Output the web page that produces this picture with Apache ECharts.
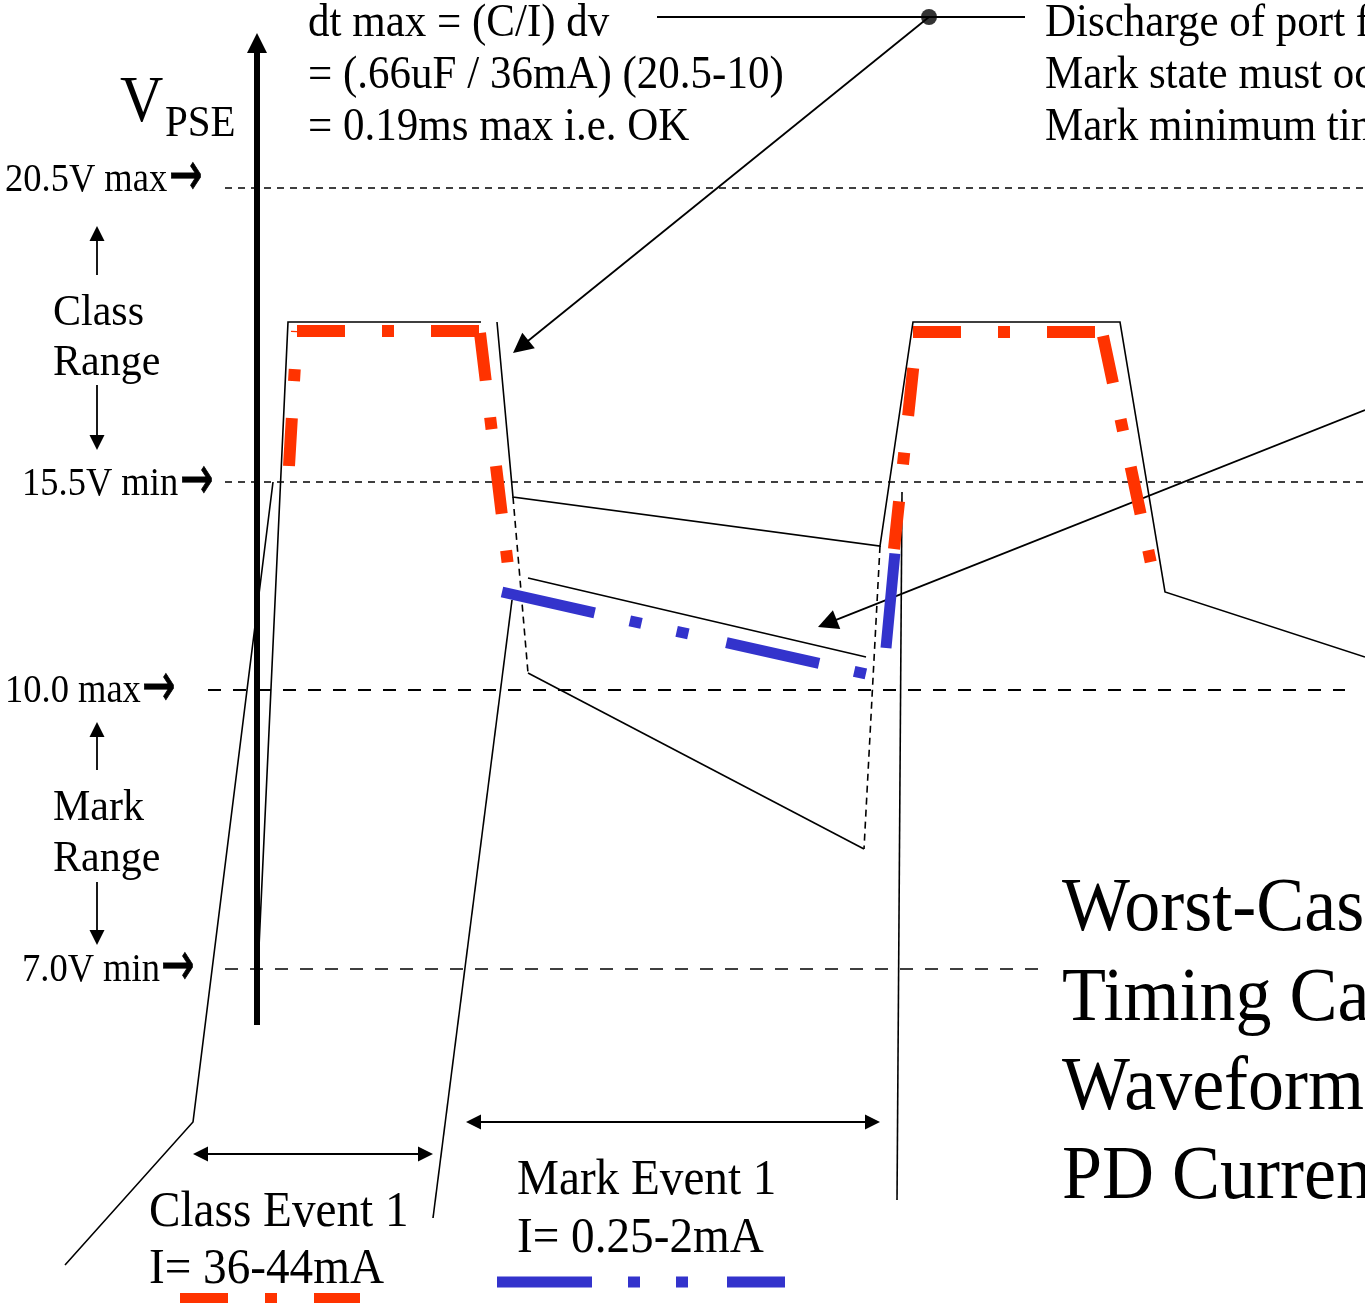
<!DOCTYPE html>
<html><head><meta charset="utf-8">
<script src="https://cdn.jsdelivr.net/npm/echarts@6/dist/echarts.min.js"></script>
<style>html,body{margin:0;padding:0;background:#fff;overflow:hidden}#c{width:1365px;height:1303px}</style>
</head><body><div id="c"></div>
<script>
// ---------- DATA (diagram units: x = time, y = level measured downward) ----------
const extentX = [0, 1365];
const extentY = [0, 1303];

// reference levels
const levelNames = ['20.5V max', '15.5V min', '10.0 max', '7.0V min'];
const levelY = [188, 482, 690, 969];
const levelFrom = [225, 225, 208, 225];
const levelTo = [1365, 1365, 1345, 1043];
const levelLabelX = [5, 22, 5, 22];
const levelLabelY = [181, 485, 692, 971];
const levelArrowX = [169, 180, 142, 161];

// V_PSE waveform traces (solid)
const vpseSolid = [
  [[65, 1265], [193, 1122], [273, 482]],
  [[257, 990], [288, 322], [481, 322]],
  [[497, 322], [513, 497], [880, 546], [913, 322], [1120, 322], [1165, 592], [1365, 657]],
  [[528, 578], [866, 657]],
  [[528, 673], [864, 849]],
  [[512, 600], [433, 1218]],
  [[902, 492], [897, 1200]]
];
// V_PSE waveform traces (dashed)
const vpseDashed = [
  [[513, 497], [528, 673]],
  [[880, 546], [864, 849]]
];
// PD current: class event (red) and mark event (blue)
const classCurrent = [
  [[289, 466], [297, 331]],
  [[297, 331], [480, 331]],
  [[480, 333], [508, 566]],
  [[894, 549], [917, 332]],
  [[913, 332], [1103, 332]],
  [[1103, 336], [1152, 568]]
];
const markCurrent = [
  [[502, 592], [866, 674]],
  [[886, 648], [895, 552]]
];
const legendClass = [[180, 1298], [360, 1298]];
const legendMark = [[497, 1282], [785, 1282]];

// arrows [from, to]
const vAxisArrow = [[257, 1025], [257, 33]];
const calloutArrows = [
  [[929, 17], [513, 353]],
  [[1365, 410], [818, 627]]
];
const rangeArrows = [
  [[97, 275], [97, 226]],
  [[97, 385], [97, 450]],
  [[97, 770], [97, 722]],
  [[97, 882], [97, 945]]
];
const spanArrows = [
  [[193, 1154], [433, 1154]],
  [[466, 1122], [880, 1122]]
];
const calloutLine = [[657, 17], [1025, 17]];
const calloutDot = [[929, 17]];

// text
const noteLines = ['dt max = (C/I) dv', '= (.66uF / 36mA) (20.5-10)', '= 0.19ms max i.e. OK'];
const notePos = [[308, 24], [308, 76], [308, 128]];
const dischargeLines = ['Discharge of port from', 'Mark state must occur', 'Mark minimum time'];
const dischargePos = [[1045, 24], [1045, 76], [1045, 128]];
const rangeLines = ['Class', 'Range', 'Mark', 'Range'];
const rangePos = [[53, 313], [53, 363], [53, 808], [53, 859]];
const eventLines = ['Class Event 1', 'I= 36-44mA', 'Mark Event 1', 'I= 0.25-2mA'];
const eventPos = [[149, 1213], [149, 1270], [517, 1181], [517, 1239]];
const titleLines = ['Worst-Case', 'Timing Calc.', 'Waveform', 'PD Current'];
const titlePos = [[1062, 910], [1062, 1000], [1062, 1089], [1062, 1178]];
const axisTitle = ['V', 'PSE'];
const axisTitlePos = [[120, 104], [165, 124]];

// ---------- CHART ----------
const chart = echarts.init(document.getElementById('c'), null, {renderer: 'canvas'});
const FONT = "'Liberation Serif', 'Times New Roman', serif";
const RED = '#FF3300', BLUE = '#3333CC';
const series = [];

function seg(points, color, width, type, z) {
  series.push({
    type: 'line', data: points, symbol: 'none', silent: true, animation: false, z: z,
    lineStyle: {color: color, width: width, type: type, cap: 'butt', join: 'miter'}
  });
}
// level lines
levelY.forEach((y, i) => {
  const dash = i < 2 ? [7, 6] : [13, 12];
  const w = i === 2 ? 2 : 1.7;
  seg([[levelFrom[i], y], [levelTo[i], y]], '#000', w, dash, 1);
});
vpseSolid.forEach(p => seg(p, '#000', 1.6, 'solid', 2));
vpseDashed.forEach(p => seg(p, '#000', 1.6, [7, 5], 2));
classCurrent.forEach(p => seg(p, RED, 12, [48, 37, 12, 37], 4));
markCurrent.forEach(p => seg(p, BLUE, 11, [95, 36, 12, 36, 12, 39], 4));
seg(legendClass, RED, 10, [48, 37, 12, 37], 4);
seg(legendMark, BLUE, 11, [95, 36, 12, 36, 12, 39], 4);
seg(calloutLine, '#000', 1.8, 'solid', 3);

function pullBack(from, to, d) {
  const dx = to[0] - from[0], dy = to[1] - from[1];
  const L = Math.hypot(dx, dy);
  return [to[0] - dx / L * d, to[1] - dy / L * d];
}
function arrowSeries(list, width, size, both, z) {
  series.push({
    type: 'lines', coordinateSystem: 'cartesian2d', silent: true, animation: false, z: z,
    symbol: [both ? 'triangle' : 'none', 'triangle'], symbolSize: size,
    lineStyle: {color: '#000', width: width, opacity: 1, curveness: 0},
    itemStyle: {color: '#000'},
    data: list.map(([a, b]) => ({
      coords: [both ? pullBack(b, a, size / 2) : a, pullBack(a, b, size / 2)]
    }))
  });
}
arrowSeries([vAxisArrow], 6, 20, false, 5);
arrowSeries(calloutArrows, 1.8, 20, false, 3);
arrowSeries(rangeArrows, 1.8, 15, false, 3);
arrowSeries(spanArrows, 1.8, 15, true, 3);

series.push({
  type: 'scatter', data: calloutDot, symbol: 'circle', symbolSize: 16, silent: true, animation: false,
  itemStyle: {color: '#000'}, z: 4
});

chart.setOption({
  animation: false,
  grid: {left: 0, right: 0, top: 0, bottom: 0, containLabel: false},
  xAxis: {type: 'value', min: extentX[0], max: extentX[1], show: false},
  yAxis: {type: 'value', min: extentY[0], max: extentY[1], inverse: true, show: false},
  series: series
});

// text via library coordinate conversion
const graphics = [];
function addText(lines, pos, font, sy, extra) {
  lines.forEach((t, i) => {
    const p = chart.convertToPixel({gridIndex: 0}, pos[i]);
    const style = Object.assign({text: t, font: font, fill: '#000', align: 'left', verticalAlign: 'middle'}, extra || {});
    graphics.push({type: 'text', x: p[0], y: p[1], scaleY: sy, silent: true, z: 10, style: style});
  });
}
addText(noteLines, notePos, '43px ' + FONT, 1.07);
addText(dischargeLines, dischargePos, '43px ' + FONT, 1.07);
addText(levelNames, levelLabelX.map((x, i) => [x, levelLabelY[i]]), '36.5px ' + FONT, 1.07);
addText(levelNames.map(() => '→'), levelArrowX.map((x, i) => [x, levelLabelY[i] - 2]),
        '40px "DejaVu Sans"', 1.55, {stroke: '#000', lineWidth: 0.6});
addText(rangeLines, rangePos, '42px ' + FONT, 1.07);
addText(eventLines, eventPos, '47.2px ' + FONT, 1.07);
addText(titleLines, titlePos, '72px ' + FONT, 1.07);
addText([axisTitle[0]], [axisTitlePos[0]], '60px ' + FONT, 1.1);
addText([axisTitle[1]], [axisTitlePos[1]], '41px ' + FONT, 1.07);
chart.setOption({graphic: graphics});
</script>
</body></html>
